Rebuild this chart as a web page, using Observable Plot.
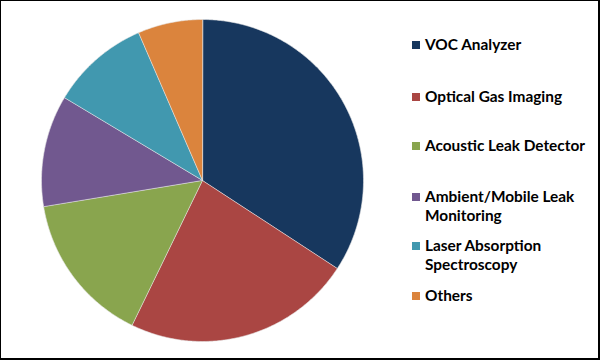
<!DOCTYPE html>
<html><head><meta charset="utf-8">
<script src="https://cdn.jsdelivr.net/npm/d3@7"></script>
<script src="https://cdn.jsdelivr.net/npm/@observablehq/plot@0.6"></script>
<style>
html,body{margin:0;padding:0;background:#fff;}
#frame{position:relative;width:601px;height:361px;overflow:hidden;background:#fff;}
#chart{position:absolute;left:0;top:0;}
#border{position:absolute;left:0;top:0;width:600px;height:360px;box-sizing:border-box;border-style:solid;border-color:#000;border-width:1px 2px 2px 1px;pointer-events:none;}
#legend{position:absolute;left:412px;top:34.5px;width:178px;font-family:Lato,"Open Sans",sans-serif;font-weight:700;font-size:15.4px;line-height:19px;color:#000;}
.item{position:relative;padding-left:13px;}
.sw{position:absolute;left:0;top:6px;width:8px;height:8px;}
.item:nth-child(1){margin-bottom:33px;}
.item:nth-child(2){margin-bottom:30px;}
.item:nth-child(3){margin-bottom:32px;}
.item:nth-child(4){margin-bottom:11px;}
.item:nth-child(5){margin-bottom:12px;}
</style>
</head><body>
<div id="frame"><div id="chart"></div><div id="legend"></div><div id="border"></div></div>
<script>
const categories = ["VOC Analyzer","Optical Gas Imaging","Acoustic Leak Detector","Ambient/Mobile Leak Monitoring","Laser Absorption Spectroscopy","Others"];
const shares = [34.2, 23.0, 15.2, 11.2, 9.9, 6.5];
const colors = ["#17375E","#AA4643","#89A54E","#71588F","#4198AF","#DB843D"];

const data = categories.map((name, i) => ({name, share: shares[i]}));
const W = 395, H = 361;
const cx = 202, cy = 180, r = 161;
const arcs = d3.pie().sort(null).value(d => d.share)(data);
const slices = arcs.map(a => {
  const pts = [[cx, cy]];
  const n = Math.max(2, Math.ceil((a.endAngle - a.startAngle) / (Math.PI / 360)));
  for (let i = 0; i <= n; i++) {
    const t = a.startAngle + (a.endAngle - a.startAngle) * i / n;
    pts.push([cx + r * Math.sin(t), cy - r * Math.cos(t)]);
  }
  pts.push([cx, cy]);
  return {name: a.data.name, geom: {type: "Polygon", coordinates: [pts]}};
});

const plot = Plot.plot({
  width: W, height: H,
  margin: 0,
  projection: "identity",
  color: {domain: categories, range: colors},
  marks: [
    Plot.geo(slices, {geometry: d => d.geom, fill: d => d.name, stroke: "#e8e8e8", strokeWidth: 0.6})
  ]
});
document.getElementById("chart").appendChild(plot);

const legend = document.getElementById("legend");
categories.forEach((c, i) => {
  const it = document.createElement("div");
  it.className = "item";
  const sw = document.createElement("span");
  sw.className = "sw";
  sw.style.background = colors[i];
  it.appendChild(sw);
  it.appendChild(document.createTextNode(c));
  legend.appendChild(it);
});
</script>
</body></html>
